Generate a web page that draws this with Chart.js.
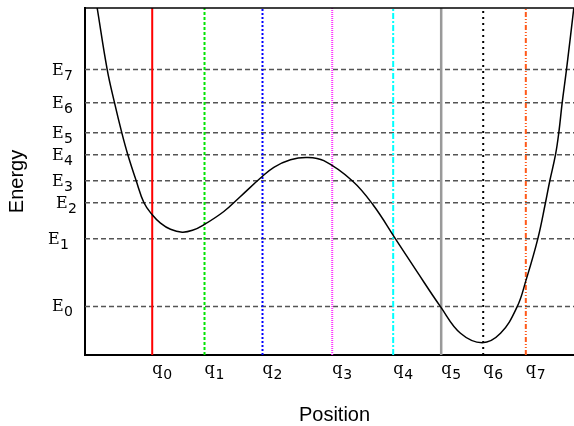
<!DOCTYPE html>
<html>
<head>
<meta charset="utf-8">
<title>Energy levels</title>
<script src="https://cdn.jsdelivr.net/npm/chart.js@4.4.1/dist/chart.umd.min.js"></script>
<style>
  html, body { margin: 0; padding: 0; overflow: hidden; background: #fff; }
  #chart { display: block; }
</style>
</head>
<body>
<canvas id="chart" width="584" height="426"></canvas>
<script>
// Potential curve (position, energy)
const curveX = [0.244, 0.445, 0.591, 0.737, 0.858, 1.026, 1.182, 1.347, 1.513, 1.713,
                1.948, 2.154, 2.381, 2.782, 3.116, 3.517, 3.784, 4.118, 4.453, 4.786,
                5.355, 5.772, 6.222, 6.657, 7.124, 7.525, 7.960, 8.327, 8.661,
                8.834, 9.074, 9.228, 9.315, 9.429, 9.495, 9.563, 9.649, 9.796];
const curveY = [10.0, 8.225, 7.273, 6.407, 5.772, 5.022, 4.387, 4.040, 3.801, 3.622,
                3.541, 3.593, 3.752, 4.136, 4.569, 5.100, 5.410, 5.628, 5.694, 5.600,
                5.022, 4.329, 3.348, 2.395, 1.394, 0.626, 0.355, 0.626, 1.394,
                2.136, 3.348, 4.387, 5.022, 5.772, 6.407, 7.273, 8.225, 10.0];

// Energy levels
const levelValues = [1.400, 3.348, 4.387, 5.022, 5.772, 6.407, 7.273, 8.225];
const levelLabels = ['E_0', 'E_1', 'E_2', 'E_3', 'E_4', 'E_5', 'E_6', 'E_7'];

// Marked positions
const qValues = [1.347, 2.395, 3.557, 4.954, 6.176, 7.138, 7.980, 8.834];
const qLabels = ['q_0', 'q_1', 'q_2', 'q_3', 'q_4', 'q_5', 'q_6', 'q_7'];

const xMin = 0, xMax = 10, yMin = 0, yMax = 10;

// one style per vertical marker
const qStyles = [
    { color: '#ff0000', dash: [], width: 2 },
    { color: '#00e600', dash: [3, 2], width: 2 },
    { color: '#0000ff', dash: [2, 2], width: 2 },
    { color: '#ff33ff', dash: [1, 1], width: 2 },
    { color: '#00ffff', dash: [6, 2, 2, 2], width: 2 },
    { color: '#999999', dash: [], width: 2.5 },
    { color: '#000000', dash: [2, 4], width: 2 },
    { color: '#ff5a1a', dash: [5, 2, 1, 2, 1, 2], width: 2 }
];

// small horizontal nudges the original labels have
const levelNudge = { 1: -4, 2: 4 };

const MAIN_FONT = '16px "DejaVu Serif", serif';
const SUB_FONT = '14px "DejaVu Sans", sans-serif';

const curveData = curveX.map((x, i) => ({ x: x, y: curveY[i] }));

const datasets = [{
    data: curveData,
    borderColor: '#000',
    borderWidth: 1.5,
    tension: 0.4
}];

qValues.forEach((q, i) => {
    datasets.push({
        data: [{ x: q, y: yMin }, { x: q, y: yMax }],
        borderColor: qStyles[i].color,
        borderWidth: qStyles[i].width,
        borderDash: qStyles[i].dash
    });
});

levelValues.forEach((e) => {
    datasets.push({
        data: [{ x: xMin, y: e }, { x: xMax, y: e }],
        borderColor: '#555',
        borderWidth: 1.5,
        borderDash: [5, 3]
    });
});

// tick labels with subscripts + top frame line
const subLabels = {
    id: 'subLabels',
    afterDraw(chart) {
        const { ctx, chartArea, scales: { x, y } } = chart;
        ctx.save();
        ctx.strokeStyle = '#000';
        ctx.lineWidth = 1.5;
        ctx.beginPath();
        ctx.moveTo(chartArea.left, chartArea.top);
        ctx.lineTo(chartArea.right, chartArea.top);
        ctx.stroke();

        ctx.fillStyle = '#000';
        ctx.textBaseline = 'alphabetic';
        ctx.textAlign = 'left';
        levelValues.forEach((v, i) => {
            const [main, sub] = levelLabels[i].split('_');
            const py = y.getPixelForValue(v);
            const px = 52 + (levelNudge[i] || 0);
            ctx.font = MAIN_FONT;
            ctx.fillText(main, px, py + 5);
            ctx.font = SUB_FONT;
            ctx.fillText(sub, px + 12, py + 10);
        });
        qValues.forEach((v, i) => {
            const [main, sub] = qLabels[i].split('_');
            const px = x.getPixelForValue(v);
            const base = chartArea.bottom + 19;
            ctx.font = MAIN_FONT;
            ctx.fillText(main, px, base);
            ctx.font = SUB_FONT;
            ctx.fillText(sub, px + 11, base + 5);
        });
        ctx.restore();
    }
};

new Chart(document.getElementById('chart'), {
    type: 'line',
    data: { datasets: datasets },
    options: {
        responsive: false,
        animation: false,
        layout: { padding: { top: 8, right: 0, bottom: 0, left: 0 } },
        elements: {
            point: { radius: 0 },
            line: { fill: false, borderCapStyle: 'butt' }
        },
        plugins: {
            legend: { display: false },
            tooltip: { enabled: false }
        },
        scales: {
            x: {
                type: 'linear',
                min: xMin,
                max: xMax,
                grid: { display: false, drawTicks: false },
                ticks: { display: false },
                border: { display: true, color: '#000', width: 2 },
                title: {
                    display: true,
                    text: 'Position',
                    color: '#000',
                    font: { family: '"Liberation Sans", Arial, sans-serif', size: 20, lineHeight: 1 },
                    padding: { top: 0, bottom: 1 }
                },
                afterFit(scale) { scale.height = 71; }
            },
            y: {
                type: 'linear',
                min: yMin,
                max: yMax,
                grid: { display: false, drawTicks: false },
                ticks: { display: false },
                border: { display: true, color: '#000', width: 2 },
                title: {
                    display: true,
                    text: 'Energy',
                    color: '#000',
                    font: { family: '"Liberation Sans", Arial, sans-serif', size: 20, lineHeight: 1 },
                    padding: { top: 7, bottom: 0 }
                },
                afterFit(scale) { scale.width = 85; }
            }
        }
    },
    plugins: [subLabels]
});
</script>
</body>
</html>
